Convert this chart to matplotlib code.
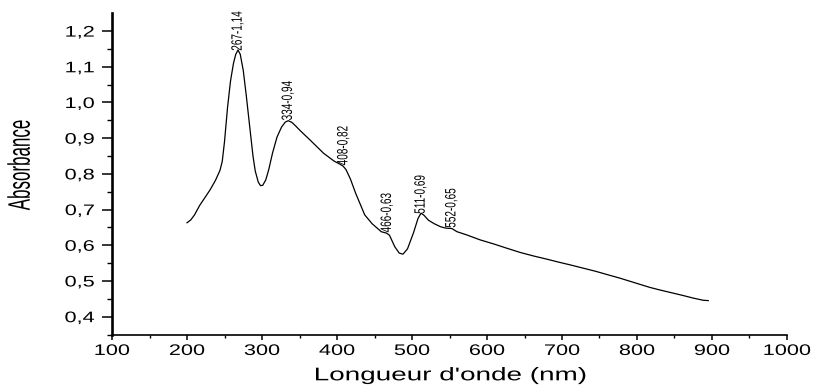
import matplotlib
matplotlib.use("Agg")
import matplotlib.pyplot as plt
import numpy as np
from matplotlib.patheffects import AbstractPathEffect
from matplotlib.transforms import Affine2D
from matplotlib.ticker import FixedLocator, FuncFormatter

# ---- data ----
wavelength = [200, 205, 210, 217, 225, 231, 238, 244, 247, 250, 254, 258, 262, 265,
              268, 271, 275, 279, 284, 288, 291, 295, 298, 301, 305, 309, 314, 320,
              326, 331, 335, 340, 345, 351, 364, 382, 396, 404, 408, 412, 418, 425,
              437, 447, 459, 466, 470, 477, 483, 488, 494, 502, 508, 512, 516, 522,
              530, 538, 545, 553, 560, 573, 591, 610, 626, 644, 662, 680, 695, 711,
              728, 745, 760, 777, 797, 817, 830, 844, 860, 875, 888, 895]
absorbance = [0.663, 0.671, 0.685, 0.712, 0.737, 0.756, 0.782, 0.810, 0.835, 0.890,
              0.985, 1.060, 1.110, 1.135, 1.147, 1.135, 1.090, 1.020, 0.925, 0.850,
              0.808, 0.777, 0.767, 0.768, 0.783, 0.812, 0.858, 0.903, 0.931, 0.945,
              0.949, 0.944, 0.934, 0.921, 0.895, 0.858, 0.836, 0.827, 0.822, 0.812,
              0.785, 0.745, 0.685, 0.660, 0.638, 0.634, 0.628, 0.596, 0.578, 0.575,
              0.590, 0.635, 0.675, 0.690, 0.684, 0.670, 0.660, 0.652, 0.648, 0.647,
              0.638, 0.629, 0.615, 0.603, 0.592, 0.580, 0.570, 0.561, 0.553, 0.545,
              0.536, 0.527, 0.518, 0.508, 0.495, 0.482, 0.475, 0.468, 0.460, 0.452,
              0.446, 0.445]
peak_wl = [267, 334, 408, 466, 511, 552]
peak_abs = [1.14, 0.94, 0.82, 0.63, 0.69, 0.65]
x_ticks = [100, 200, 300, 400, 500, 600, 700, 800, 900, 1000]
y_ticks = [0.4, 0.5, 0.6, 0.7, 0.8, 0.9, 1.0, 1.1, 1.2]
x_label = "Longueur d'onde (nm)"
y_label = "Absorbance"


class Stretch(AbstractPathEffect):
    """Scale glyph outlines in the text's own frame about an anchor."""
    def __init__(self, sx=1.0, sy=1.0, ax=0.5, ay=0.5):
        super().__init__()
        self.sx, self.sy, self.ax, self.ay = sx, sy, ax, ay

    def draw_path(self, renderer, gc, tpath, affine, rgbFace=None):
        ext = tpath.get_extents()
        cx = ext.x0 + self.ax * ext.width
        cy = ext.y0 + self.ay * ext.height
        t = (Affine2D().translate(-cx, -cy).scale(self.sx, self.sy)
             .translate(cx, cy) + affine)
        renderer.draw_path(gc, tpath, t, rgbFace)


FONT = "Liberation Sans"
W, H = 816, 385
fig = plt.figure(figsize=(W / 100, H / 100), dpi=100)
ax = fig.add_axes([112 / W, 1 - 334.5 / H, (787 - 112) / W, (334.5 - 13.25) / H])

ax.plot(wavelength, absorbance, color="black", lw=0.9)

ax.set_xlim(100, 1000)
ax.set_ylim(0.35, 1.25)

for s in ("top", "right"):
    ax.spines[s].set_visible(False)
ax.spines["left"].set_linewidth(1.9)
ax.spines["bottom"].set_linewidth(1.2)

ax.xaxis.set_major_locator(FixedLocator(x_ticks))
ax.xaxis.set_minor_locator(FixedLocator([v + 50 for v in x_ticks[:-1]]))
ax.yaxis.set_major_locator(FixedLocator(y_ticks))
ax.yaxis.set_minor_locator(FixedLocator([round(v + 0.05, 2) for v in y_ticks[:-1]] + [0.35]))
ax.yaxis.set_major_formatter(FuncFormatter(lambda v, p: f"{v:.1f}".replace(".", ",")))
ax.xaxis.set_major_formatter(FuncFormatter(lambda v, p: f"{int(round(v))}"))

ax.tick_params(axis="x", which="major", direction="out", length=3.8, width=1.1, pad=3.0)
ax.tick_params(axis="x", which="minor", direction="out", length=2.2, width=1.0)
ax.tick_params(axis="y", which="major", direction="out", length=7.2, width=1.1, pad=5.5)
ax.tick_params(axis="y", which="minor", direction="out", length=3.6, width=1.0)

for lab in ax.get_xticklabels() + ax.get_yticklabels():
    lab.set_fontfamily(FONT)
    lab.set_fontsize(11)

# peak annotations
for wl, a in zip(peak_wl, peak_abs):
    yv = float(np.interp(wl, wavelength, absorbance))
    ax.annotate(f"{wl}-{a:.2f}".replace(".", ","), xy=(wl, yv), xytext=(0, 0.5),
                textcoords="offset points", rotation=90, ha="center", va="bottom",
                fontsize=7.2, family=FONT,
                path_effects=[Stretch(sx=1.0, sy=1.5, ax=0.0, ay=0.5)])

fig.text(451 / W, 1 - 380.3 / H, x_label, ha="center", va="baseline",
         fontsize=13.2, family=FONT, path_effects=[Stretch(sx=1.52, sy=1.0, ax=0.5, ay=0.0)])
fig.text(20.5 / W, 1 - 165 / H, y_label, ha="center", va="center", rotation=90,
         fontsize=14.9, family=FONT, path_effects=[Stretch(sx=0.82, sy=1.5, ax=0.5, ay=0.5)])

fig.canvas.draw()
for lab in ax.get_xticklabels():
    lab.set_path_effects([Stretch(sx=1.42, sy=1.0, ax=0.5, ay=0.5)])
for lab in ax.get_yticklabels():
    lab.set_path_effects([Stretch(sx=1.42, sy=1.0, ax=1.0, ay=0.5)])

fig.savefig("out.png", dpi=100)
